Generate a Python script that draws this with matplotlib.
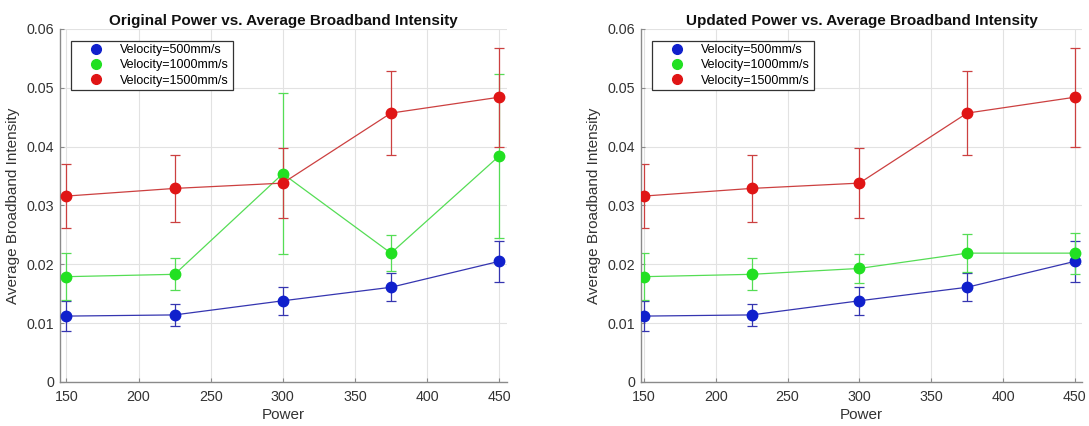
import matplotlib
matplotlib.use("Agg")
import matplotlib.pyplot as plt
from matplotlib.lines import Line2D

power = [150, 225, 300, 375, 450]
labels = ["Velocity=500mm/s", "Velocity=1000mm/s", "Velocity=1500mm/s"]

v500 = [0.0112, 0.0114, 0.0138, 0.0161, 0.0205]
v500_err = [0.0025, 0.0019, 0.0024, 0.0024, 0.0035]

v1000_orig = [0.0179, 0.0183, 0.0354, 0.0219, 0.0384]
v1000_orig_err = [0.0040, 0.0027, 0.0137, 0.0031, 0.0139]

v1000_upd = [0.0179, 0.0183, 0.0193, 0.0219, 0.0219]
v1000_upd_err = [0.0040, 0.0027, 0.0025, 0.0032, 0.0035]

v1500 = [0.0316, 0.0329, 0.0338, 0.0457, 0.0484]
v1500_err = [0.0054, 0.0057, 0.0060, 0.0071, 0.0084]

titles = ["Original Power vs. Average Broadband Intensity",
          "Updated Power vs. Average Broadband Intensity"]

marker_cols = ["#1020cc", "#22e022", "#e01515"]
line_cols = ["#3535b0", "#55dd55", "#cc4040"]

plt.rcParams['font.family'] = ['Liberation Sans', 'DejaVu Sans']

fig = plt.figure(figsize=(10.89, 4.26), dpi=100)
ax1 = fig.add_axes([0.0551, 0.1033, 0.4105, 0.8287])
ax2 = fig.add_axes([0.5886, 0.1033, 0.4050, 0.8287])

datasets = [
    [(v500, v500_err), (v1000_orig, v1000_orig_err), (v1500, v1500_err)],
    [(v500, v500_err), (v1000_upd, v1000_upd_err), (v1500, v1500_err)],
]

for ax, title, ds, xl in zip([ax1, ax2], titles, datasets, [(145.5, 455.5), (148, 455)]):
    for (vals, errs), mc, lc in zip(ds, marker_cols, line_cols):
        ax.errorbar(power, vals, yerr=errs, fmt='none', ecolor=lc, elinewidth=0.9,
                    capsize=3.8, capthick=0.9, zorder=2)
        ax.plot(power, vals, '-', color=lc, lw=0.9, zorder=3)
        ax.plot(power, vals, 'o', color=mc, ms=7.5, mec=mc, zorder=4)
    ax.set_xlim(*xl)
    ax.set_ylim(0, 0.06)
    ax.set_xticks([150, 200, 250, 300, 350, 400, 450])
    ax.set_yticks([0, 0.01, 0.02, 0.03, 0.04, 0.05, 0.06])
    ax.set_yticklabels(["0", "0.01", "0.02", "0.03", "0.04", "0.05", "0.06"])
    ax.grid(True, color="#e2e2e2", lw=0.8)
    ax.set_axisbelow(True)
    for s in ["top", "right"]:
        ax.spines[s].set_visible(False)
    for s in ["left", "bottom"]:
        ax.spines[s].set_color("#8a8a8a")
        ax.spines[s].set_linewidth(1.0)
    ax.tick_params(axis='x', pad=6)
    ax.tick_params(direction='in', length=3, color="#8a8a8a", labelcolor="#333333",
                   labelsize=10.3)
    ax.tick_params(axis='y', pad=4)
    ax.set_xlabel("Power", fontsize=11, color="#333333", labelpad=3)
    ax.set_ylabel("Average Broadband Intensity", fontsize=11, color="#333333", labelpad=5)
    ax.set_title(title, fontsize=11, fontweight='bold', color="#111111", pad=3)
    handles = [Line2D([], [], ls='none', marker='o', color=c, ms=7) for c in marker_cols]
    leg = ax.legend(handles, labels, loc='upper left', bbox_to_anchor=(0.024, 0.967),
                    fontsize=9, frameon=True, fancybox=False, edgecolor="#333333",
                    framealpha=1, borderpad=0.3, labelspacing=0.25, handletextpad=0.15,
                    handlelength=3.5, borderaxespad=0)
    leg.get_frame().set_linewidth(0.9)

fig.savefig("out.png", dpi=100)
